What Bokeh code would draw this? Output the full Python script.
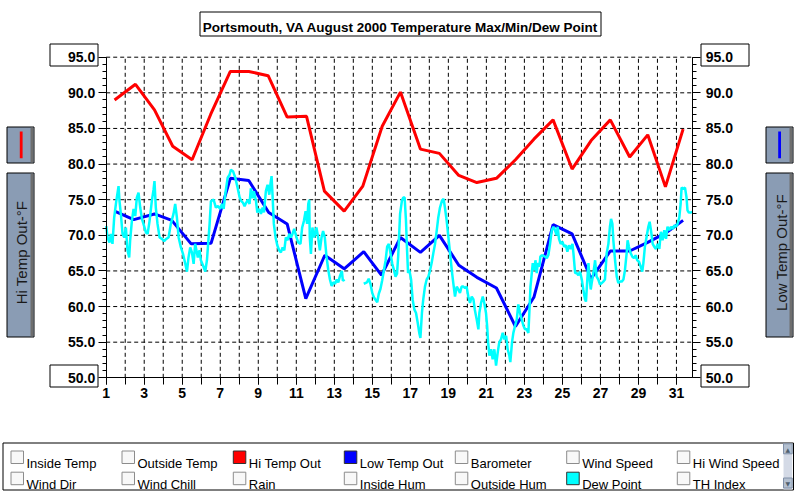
import math
from bokeh.plotting import figure
from bokeh.models import LinearAxis, FixedTicker, Range1d, PrintfTickFormatter
from bokeh.core.properties import value
from bokeh.embed import file_html
from bokeh.resources import INLINE

# ---------------- data ----------------
TITLE = "Portsmouth, VA August 2000 Temperature Max/Min/Dew Point"
Y_TICKS = [50, 55, 60, 65, 70, 75, 80, 85, 90, 95]
Y_MINOR = list(range(50, 96))
X_TICKS = list(range(1, 32, 2))
X_MINOR = list(range(1, 32))
X_MIN, X_MAX = 1.0, 31.86
Y_MIN, Y_MAX = 50.0, 95.0

hi_day = [1.44, 2.54, 3.54, 4.50, 5.52, 6.50, 7.53, 8.50, 9.52, 10.52, 11.54, 12.48, 13.52,
          14.50, 15.52, 16.48, 17.53, 18.53, 19.55, 20.50, 21.53, 22.53, 23.50, 24.51, 25.51,
          26.51, 27.52, 28.54, 29.49, 30.42, 31.35]
hi_temp = [89.0, 91.2, 87.6, 82.5, 80.6, 87.0, 93.0, 93.0, 92.4, 86.6, 86.7, 76.2, 73.4,
           76.9, 85.3, 90.1, 82.1, 81.5, 78.4, 77.4, 78.0, 80.6, 83.5, 86.2, 79.3,
           83.3, 86.2, 81.0, 84.1, 76.8, 84.9]

lo_day = [1.44, 2.45, 3.54, 4.45, 5.47, 6.52, 7.53, 8.50, 9.55, 10.52, 11.50, 12.50, 13.52,
          14.55, 15.48, 16.48, 17.53, 18.53, 19.55, 20.50, 21.53, 22.53, 23.50, 24.51, 25.51,
          26.51, 27.52, 28.54, 29.49, 30.42, 31.35]
lo_temp = [73.4, 72.2, 73.0, 72.1, 68.8, 68.9, 78.0, 77.7, 73.2, 71.6, 61.1, 67.2, 65.3,
           67.7, 64.4, 69.7, 67.6, 70.0, 65.8, 64.1, 62.6, 57.2, 61.3, 71.5, 70.2,
           63.9, 67.8, 67.8, 69.0, 70.3, 72.1]

NAN = float("nan")
dew_day = [
    1.00, 1.07, 1.175, 1.245, 1.33, 1.42, 1.53, 1.65, 1.70, 1.77,
    1.86, 1.95, 2.035, 2.12, 2.21, 2.26, 2.35, 2.44, 2.53, 2.61,
    2.70, 2.79, 2.88, 2.96, 3.09, 3.18, 3.28, 3.40, 3.49, 3.54,
    3.61, 3.70, 3.81, 3.93, 4.05, 4.16, 4.28, 4.40, 4.54, 4.63,
    4.72, 4.81, 4.93, 5.04, 5.16, 5.25, 5.33, 5.42, 5.51, 5.60,
    5.68, 5.82, 5.91, 5.98, 6.09, 6.21, 6.30, 6.44, 6.51, 6.65,
    6.77, 6.88, 7.00, 7.09, 7.18, 7.26, 7.39, 7.49, 7.56, 7.67,
    7.79, 7.91, 8.02, 8.11, 8.19, 8.28, 8.37, 8.46, 8.54,
    8.61, 8.70, 8.77, 8.88, 8.95, 9.05, 9.14, 9.23, 9.30, 9.40,
    9.49, 9.58, 9.65, 9.70, 9.75, 9.82, 9.91, 10.00, 10.10, 10.19,
    10.28, 10.37, 10.45, 10.54, 10.63, 10.72, 10.80, 10.89, 11.01, 11.10,
    11.22, 11.31, 11.40, 11.49, 11.57, 11.63, 11.68, 11.71, 11.77, 11.85,
    11.94, 12.06, 12.15, 12.24, 12.33, 12.41, 12.50,
    12.59, 12.68, 12.77, 12.86, 12.95, 13.04, 13.13, 13.21, 13.30, 13.40, 13.45, 13.54,
    14.00,
    14.55, 14.72, 14.81, 14.90, 14.99, 15.08, 15.26, 15.34, 15.43, 15.52,
    15.61, 15.70, 15.78, 15.87, 15.96, 16.05, 16.14, 16.22, 16.30, 16.36,
    16.41, 16.46, 16.56, 16.63, 16.70, 16.77, 16.82, 16.88, 16.95, 17.04,
    17.12, 17.21, 17.30, 17.39, 17.47, 17.53, 17.61, 17.68, 17.77, 17.86,
    17.95, 18.04, 18.12, 18.21, 18.30, 18.39, 18.47, 18.56, 18.67, 18.75,
    18.82, 18.91, 19.00, 19.09, 19.18, 19.26, 19.35, 19.44, 19.53, 19.61,
    19.70, 19.79, 19.88, 19.96, 20.05, 20.14, 20.23, 20.32, 20.39, 20.49,
    20.58, 20.63, 20.72, 20.81, 20.89, 20.98, 21.04, 21.09, 21.16, 21.25,
    21.33, 21.42, 21.51, 21.60, 21.68, 21.77, 21.86, 21.95, 22.04, 22.12,
    22.21, 22.26, 22.35, 22.42, 22.51, 22.60, 22.68, 22.77, 22.86, 22.95,
    23.04, 23.12, 23.21, 23.26, 23.32, 23.39, 23.44, 23.53, 23.58, 23.65,
    23.70, 23.79, 23.84,
    23.91, 24.09, 24.18, 24.26, 24.35, 24.44, 24.53, 24.61, 24.70, 24.75,
    24.82, 24.91, 25.00, 25.09, 25.18, 25.26, 25.35, 25.44, 25.53, 25.58,
    25.67, 25.75, 25.84, 25.93, 26.02, 26.10, 26.19, 26.24, 26.31, 26.37,
    26.42, 26.49, 26.54, 26.63, 26.72, 26.80, 26.89, 26.98, 27.07, 27.15,
    27.24, 27.33, 27.42, 27.50, 27.56, 27.63, 27.68, 27.77, 27.86, 27.94,
    28.03, 28.12, 28.21, 28.29, 28.38, 28.43, 28.50, 28.59, 28.68, 28.77,
    28.85, 28.94, 29.03, 29.12, 29.20, 29.26, 29.34, 29.43, 29.52, 29.59,
    29.66, 29.75, 29.83, 29.92, 30.01, 30.10, 30.18, 30.27, 30.36, 30.45,
    30.53, 30.62, 30.71, 30.80, 30.89, 30.97, 31.06, 31.15, 31.22, 31.27,
    31.36, 31.45, 31.53, 31.58, 31.65, 31.76, 31.83,
]
dew_temp = [
    71.3, 69.7, 69.0, 70.2, 68.8, 72.5, 74.8, 76.9, 74.8, 73.0,
    70.2, 69.7, 71.1, 67.9, 66.9, 69.3, 72.0, 73.7, 72.7, 75.3,
    76.0, 73.9, 72.3, 71.6, 70.4, 70.2, 72.0, 74.8, 76.4, 77.6,
    73.9, 71.6, 69.7, 69.5, 69.2, 69.5, 69.7, 71.6, 73.0, 74.4,
    72.5, 69.7, 68.3, 67.4, 66.0, 64.9, 66.9, 68.3, 67.6, 66.0,
    68.8, 66.9, 67.9, 66.5, 65.8, 64.9, 66.5, 71.6, 74.8, 75.0,
    73.9, 74.1, 73.7, 74.4, 73.7, 75.7, 78.1, 78.5, 79.2, 79.0,
    78.1, 76.7, 75.3, 74.8, 74.6, 74.1, 74.6, 75.0, 74.4,
    76.6, 75.2, 76.2, 74.8, 73.2, 73.7, 73.0, 73.9, 73.2, 76.2,
    77.1, 75.7, 77.4, 78.3, 75.7, 71.6, 69.7, 68.6, 67.9, 67.6,
    68.3, 67.9, 69.7, 69.3, 70.2, 69.7, 70.2, 70.9, 69.7, 69.0,
    68.8, 71.1, 72.0, 73.4, 71.6, 74.4, 75.0, 69.7, 67.4, 71.1,
    69.7, 71.1, 69.7, 67.9, 69.7, 70.6, 69.7,
    67.0, 65.2, 63.8, 62.9, 63.4, 63.2, 63.8, 63.4, 64.3, 65.0, 63.6, 63.8,
    NAN,
    63.2, 63.4, 63.9, 63.2, 62.0, 61.3, 60.6, 61.8, 62.5, 63.7,
    65.1, 66.5, 68.4, 68.8, 67.4, 66.0, 65.1, 64.2, 64.6, 67.0,
    70.0, 73.0, 74.9, 75.3, 75.3, 72.1, 68.4, 64.7, 65.1, 63.8,
    61.0, 59.6, 59.1, 57.7, 56.3, 55.6, 59.1, 61.0, 62.8, 63.8,
    64.2, 65.1, 66.1, 67.5, 68.8, 70.7, 72.5, 73.9, 74.9, 75.1,
    73.9, 72.1, 69.8, 67.5, 65.1, 63.3, 61.4, 62.8, 62.4, 61.9,
    62.8, 62.8, 62.6, 62.8, 61.4, 60.5, 61.4, 61.0, 59.6, 58.2,
    56.8, 59.1, 60.5, 61.4, 60.5, 59.1, 57.3, 55.0, 53.1, 54.0,
    52.6, 54.0, 51.7, 53.6, 55.0, 55.4, 56.3, 55.4, 55.9, 54.0,
    53.1, 52.2, 55.0, 56.3, 57.3, 58.2, 60.3, 59.1, 58.2, 57.3,
    56.8, 56.8, 56.3, 59.1, 62.8, 64.7, 66.1, 65.1, 66.5, 64.7,
    66.1, 65.6, 67.0,
    67.2, 67.0, 66.8, 67.2, 68.8, 70.7, 71.2, 70.7, 70.0, 71.2,
    69.5, 68.8, 69.1, 68.4, 68.6, 67.7, 68.6, 68.1, 68.8, 67.5,
    64.7, 64.7, 64.4, 64.9, 63.8, 62.4, 61.0, 60.7, 63.8, 66.1,
    64.2, 62.4, 63.3, 64.7, 66.5, 64.2, 63.8, 63.1, 63.3, 63.5,
    63.8, 67.5, 68.8, 71.2, 72.3, 71.6, 69.3, 66.5, 64.2, 63.3,
    63.5, 63.5, 63.8, 65.1, 67.5, 69.3, 68.4, 67.5, 67.0, 66.8,
    67.2, 66.5, 66.3, 65.6, 64.9, 66.1, 68.4, 69.8, 71.2, 71.9,
    70.7, 68.8, 68.4, 68.1, 68.8, 68.1, 70.5, 69.3, 70.7, 69.5,
    71.2, 70.7, 71.2, 70.9, 71.4, 71.2, 71.6, 72.5, 74.4, 76.7,
    76.5, 76.7, 75.3, 73.5, 73.2, 73.2, 73.3,
]
assert len(dew_day) == len(dew_temp)

LEFT_LABEL = "Hi Temp Out-\u00b0F"
RIGHT_LABEL = "Low Temp Out-\u00b0F"
LEGEND_ROW1 = ["Inside Temp", "Outside Temp", "Hi Temp Out", "Low Temp Out",
               "Barometer", "Wind Speed", "Hi Wind Speed"]
LEGEND_ROW2 = ["Wind Dir", "Wind Chill", "Rain", "Inside Hum",
               "Outside Hum", "Dew Point", "TH Index"]
LEGEND_COLORS = {"Hi Temp Out": "#ff0000", "Low Temp Out": "#0000ff", "Dew Point": "#00ffff"}

# ---------------- layout (page pixels) ----------------
W, H = 797, 491
PL, PR, PT, PB = 105.7, 692.3, 56.7, 377.3   # plot area edges
FONT = "Liberation Sans"

kx = (PR - PL) / (X_MAX - X_MIN)
ky = (PB - PT) / (Y_MAX - Y_MIN)
x_range = Range1d(X_MIN - PL / kx, X_MAX + (W - PR) / kx)
y_range = Range1d(Y_MIN - (H - PB) / ky, Y_MAX + PT / ky)

p = figure(width=W, height=H, x_range=x_range, y_range=y_range, title=None,
           output_backend="svg", toolbar_location=None,
           x_axis_type=None, y_axis_type=None,
           min_border_left=0, min_border_right=0, min_border_top=0, min_border_bottom=0)
p.outline_line_color = None
p.background_fill_color = "white"
p.border_fill_color = "white"
p.grid.visible = False

# pixel coordinate system for the surrounding window decorations
p.extra_x_ranges = {"px": Range1d(0, W)}
p.extra_y_ranges = {"py": Range1d(H, 0)}

# dashed grid at tick positions, limited to the plot area
gx = [d for d in X_MINOR if d > X_MIN]
p.segment(x0=gx, y0=[Y_MIN] * len(gx), x1=gx, y1=[Y_MAX] * len(gx),
          line_color="black", line_width=1, line_dash="4 3")
gy = [v for v in Y_TICKS if v > Y_MIN]
p.segment(x0=[X_MIN] * len(gy), y0=gy, x1=[X_MAX] * len(gy), y1=gy,
          line_color="black", line_width=1, line_dash="4 3")

xt = FixedTicker(ticks=X_TICKS, minor_ticks=X_MINOR)
yt = FixedTicker(ticks=Y_TICKS, minor_ticks=Y_MINOR)

def style_axis(ax, tick_out, minor_out):
    ax.axis_line_color = "black"
    ax.axis_line_width = 1
    ax.major_tick_line_color = "black"
    ax.minor_tick_line_color = "black"
    ax.major_tick_in = 0
    ax.minor_tick_in = 0
    ax.major_tick_out = tick_out
    ax.minor_tick_out = minor_out
    ax.major_label_text_font = FONT
    ax.major_label_text_font_style = "bold"
    ax.major_label_text_font_size = "14px"
    ax.major_label_text_color = "black"

xaxis = LinearAxis(ticker=xt, fixed_location=Y_MIN, bounds=(X_MIN, X_MAX))
style_axis(xaxis, 7, 7)
xaxis.major_label_standoff = 3
p.add_layout(xaxis, "below")

for side, loc in (("left", X_MIN), ("right", X_MAX)):
    ya = LinearAxis(ticker=yt, formatter=PrintfTickFormatter(format="%.1f"),
                    fixed_location=loc, bounds=(Y_MIN, Y_MAX))
    style_axis(ya, 8, 4)
    ya.major_label_standoff = 3 if side == "left" else 5
    p.add_layout(ya, side)

# data lines
p.line(hi_day, hi_temp, line_color="#ff0000", line_width=3)
p.line(lo_day, lo_temp, line_color="#0000ff", line_width=3)
p.line(dew_day, dew_temp, line_color="#00ffff", line_width=2.5)

# ---------------- window decorations (pixel coords) ----------------
def box(l, t, r, b, fill=None, line="black", lw=1):
    p.quad(left=[l], right=[r], top=[t], bottom=[b],
           x_range_name="px", y_range_name="py",
           fill_color=fill if fill else "white", fill_alpha=1 if fill else 0,
           line_color=line if line else "white", line_alpha=1 if line else 0,
           line_width=lw)

def text(x, y, s, size="13px", style="normal", align="left", baseline="alphabetic",
         angle=0, color="black", font=FONT):
    p.text(x=[x], y=[y], text=[s], x_range_name="px", y_range_name="py",
           text_font=value(font), text_font_size=size, text_font_style=style,
           text_align=align, text_baseline=baseline, angle=angle, text_color=color)

# title
box(199.5, 11.5, 600.5, 35.5, fill="white")
text(400, 27, TITLE, size="13.5px", style="bold", align="center")

# end value boxes
for (l, r) in ((49.5, 97.5), (700.5, 748.5)):
    box(l, 43.5, r, 65.5)
    box(l, 364.5, r, 386.5)

# side buttons
BTN = "#8a9cb4"
for (l, r, strip_l, ind_l, label, ind_col, tx) in (
        (6.5, 33.5, 30.0, 19.3, LEFT_LABEL, "#ff0000", 20.5),
        (765.5, 792.5, 789.0, 777.7, RIGHT_LABEL, "#0000ff", 780.8)):
    box(l, 126.5, r, 162.5, fill=BTN)
    box(strip_l, 127, r - 0.5, 162, fill="#6e6e6e", line=None)
    box(ind_l, 131, ind_l + 2.8, 157.7, fill=ind_col, line=None)
    box(l, 172.5, r, 336.5, fill=BTN)
    box(strip_l, 173, r - 0.5, 336, fill="#6e6e6e", line=None)
    text(tx, 252, label, size="15px", align="center", baseline="middle",
         angle=math.pi / 2, color="#1a1a1a")

# legend panel
box(2.5, 442.5, 793, 489.5, fill="white")
col_x = [10, 121, 232.3, 343.3, 454.3, 565.7, 676.3]
for row, items in enumerate((LEGEND_ROW1, LEGEND_ROW2)):
    cb_top = 450.0 if row == 0 else 471.2
    base = 462.8 if row == 0 else 483.8
    for cx, name in zip(col_x, items):
        col = LEGEND_COLORS.get(name)
        if col:
            box(cx + 0.5, cb_top + 0.5, cx + 13, cb_top + 13, fill=col, line="#303030")
        else:
            box(cx + 0.5, cb_top + 0.5, cx + 13, cb_top + 13, fill="#f8f8f8", line="#8c8c8c")
        text(cx + 16, base, name, size="13px")

# scrollbar
sb_l, sb_r = 783.0, 791.7
box(sb_l, 443.3, sb_r, 489, fill="#d4dae6", line=None)
box(sb_l, 443.3, sb_r, 453.3, fill="#b4c0d0", line="#8090a8")
box(sb_l, 477.5, sb_r, 487.5, fill="#b4c0d0", line="#8090a8")
text((sb_l + sb_r) / 2, 448.5, "\u25b2", size="6px", align="center", baseline="middle",
     color="#506070", font="DejaVu Sans")
text((sb_l + sb_r) / 2, 482.7, "\u25bc", size="6px", align="center", baseline="middle",
     color="#506070", font="DejaVu Sans")

open("out.html", "w").write(file_html(p, INLINE))
